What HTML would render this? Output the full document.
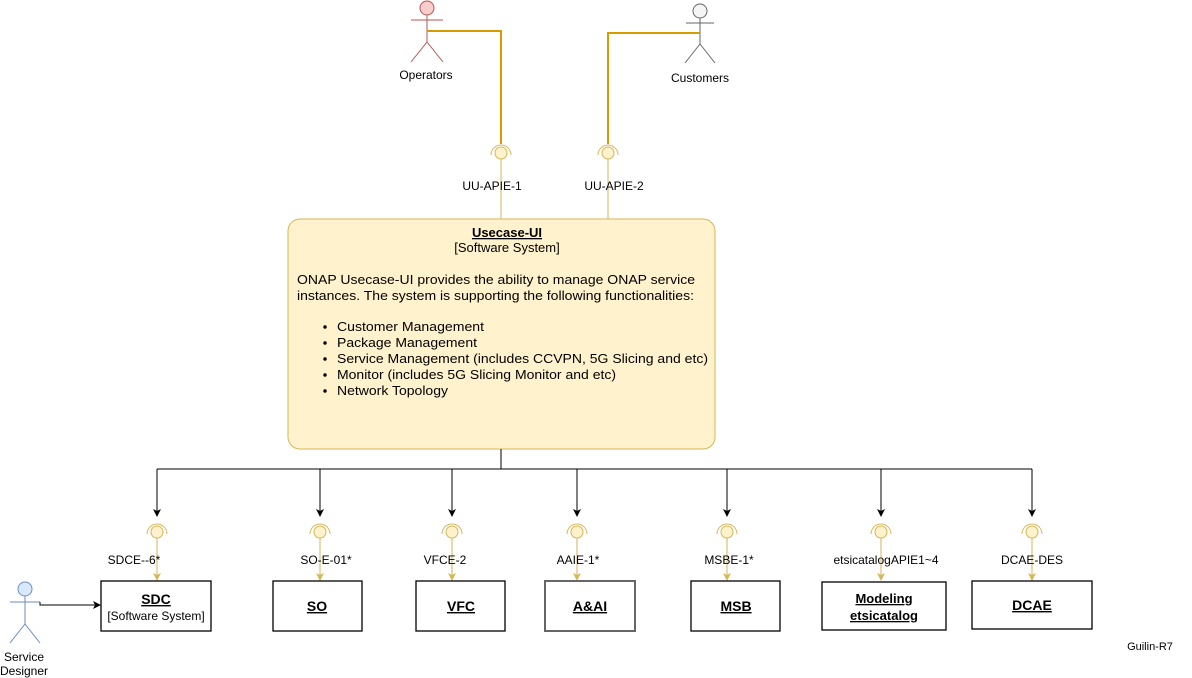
<!DOCTYPE html>
<html><head><meta charset="utf-8"><style>
html,body{margin:0;padding:0;background:#fff;}
svg{display:block;font-family:"Liberation Sans",Arial,sans-serif;}
</style></head><body>
<svg width="1192" height="678" viewBox="0 0 1192 678" xmlns="http://www.w3.org/2000/svg">
<defs>
<marker id="ab" markerWidth="8" markerHeight="8" refX="7" refY="4" orient="auto" markerUnits="userSpaceOnUse"><path d="M0,0 L8,4 L0,8 L2,4 z" fill="#000"/></marker>
<marker id="ag" markerWidth="8" markerHeight="8" refX="7" refY="4" orient="auto" markerUnits="userSpaceOnUse"><path d="M0,0 L8,4 L0,8 L2,4 z" fill="#d6b656"/></marker>
</defs>
<g fill="none" stroke="#b85450" stroke-width="1">
<circle cx="427" cy="8" r="7" fill="#f8cecc"/>
<line x1="427" y1="15" x2="427" y2="42"/><line x1="411" y1="20" x2="443" y2="20"/>
<line x1="427" y1="42" x2="411" y2="62"/><line x1="427" y1="42" x2="443" y2="62"/>
</g>
<text x="426" y="79" font-size="12" text-anchor="middle">Operators</text>
<g fill="none" stroke="#666" stroke-width="1">
<circle cx="700" cy="11" r="7" fill="#f5f5f5"/>
<line x1="700" y1="18" x2="700" y2="44"/><line x1="686" y1="23" x2="714" y2="23"/>
<line x1="700" y1="44" x2="685" y2="63"/><line x1="700" y1="44" x2="715" y2="63"/>
</g>
<text x="700" y="82" font-size="12" text-anchor="middle">Customers</text>
<g fill="none" stroke="#d79b00" stroke-width="2">
<polyline points="427,31 501,31 501,144"/>
<polyline points="700,33 608,33 608,144"/>
</g>
<g fill="none" stroke="#d6b656">
<line x1="501" y1="159" x2="501" y2="219"/><line x1="608" y1="159" x2="608" y2="219"/>
<circle cx="501" cy="153" r="6" fill="#fff2cc"/><path d="M491,155 A10,10 0 0 1 511,155"/>
<circle cx="608" cy="153" r="6" fill="#fff2cc"/><path d="M598,155 A10,10 0 0 1 618,155"/>
</g>
<text x="492" y="190" font-size="12" text-anchor="middle">UU-APIE-1</text>
<text x="614" y="190" font-size="12" text-anchor="middle">UU-APIE-2</text>
<rect x="288" y="219" width="427" height="230" rx="12" fill="#fff2cc" stroke="#d6b656"/>
<text x="507" y="237" font-size="13" font-weight="bold" text-anchor="middle" text-decoration="underline">Usecase-UI</text>
<text x="507" y="252" font-size="13" text-anchor="middle">[Software System]</text>
<g font-size="13">
<text x="297" y="284" textLength="398" lengthAdjust="spacingAndGlyphs">ONAP Usecase-UI provides the ability to manage ONAP service</text>
<text x="297" y="300" textLength="397" lengthAdjust="spacingAndGlyphs">instances. The system is supporting the following functionalities:</text>
<text x="337" y="331" textLength="147" lengthAdjust="spacingAndGlyphs">Customer Management</text>
<text x="337" y="347" textLength="140" lengthAdjust="spacingAndGlyphs">Package Management</text>
<text x="337" y="363" textLength="371" lengthAdjust="spacingAndGlyphs">Service Management (includes CCVPN, 5G Slicing and etc)</text>
<text x="337" y="379" textLength="279" lengthAdjust="spacingAndGlyphs">Monitor (includes 5G Slicing Monitor and etc)</text>
<text x="337" y="395" textLength="111" lengthAdjust="spacingAndGlyphs">Network Topology</text>
</g>
<g fill="#000"><circle cx="325" cy="327" r="1.7"/><circle cx="325" cy="343" r="1.7"/><circle cx="325" cy="359" r="1.7"/><circle cx="325" cy="375" r="1.7"/><circle cx="325" cy="391" r="1.7"/></g>
<g fill="none" stroke="#000" stroke-width="1">
<line x1="501" y1="449" x2="501" y2="469"/>
<line x1="157" y1="469" x2="1032" y2="469"/>
<line x1="157" y1="469" x2="157" y2="516" marker-end="url(#ab)"/>
<line x1="320" y1="469" x2="320" y2="516" marker-end="url(#ab)"/>
<line x1="452" y1="469" x2="452" y2="516" marker-end="url(#ab)"/>
<line x1="577" y1="469" x2="577" y2="516" marker-end="url(#ab)"/>
<line x1="727" y1="469" x2="727" y2="516" marker-end="url(#ab)"/>
<line x1="881" y1="469" x2="881" y2="516" marker-end="url(#ab)"/>
<line x1="1032" y1="469" x2="1032" y2="516" marker-end="url(#ab)"/>
</g>
<g fill="none" stroke="#d6b656">
<line x1="157" y1="538" x2="157" y2="580" marker-end="url(#ag)"/><circle cx="157" cy="532" r="6" fill="#fff2cc"/><path d="M147,534 A10,10 0 0 1 167,534"/>
<line x1="320" y1="538" x2="320" y2="580" marker-end="url(#ag)"/><circle cx="320" cy="532" r="6" fill="#fff2cc"/><path d="M310,534 A10,10 0 0 1 330,534"/>
<line x1="452" y1="538" x2="452" y2="580" marker-end="url(#ag)"/><circle cx="452" cy="532" r="6" fill="#fff2cc"/><path d="M442,534 A10,10 0 0 1 462,534"/>
<line x1="577" y1="538" x2="577" y2="580" marker-end="url(#ag)"/><circle cx="577" cy="532" r="6" fill="#fff2cc"/><path d="M567,534 A10,10 0 0 1 587,534"/>
<line x1="727" y1="538" x2="727" y2="580" marker-end="url(#ag)"/><circle cx="727" cy="532" r="6" fill="#fff2cc"/><path d="M717,534 A10,10 0 0 1 737,534"/>
<line x1="881" y1="538" x2="881" y2="580" marker-end="url(#ag)"/><circle cx="881" cy="532" r="6" fill="#fff2cc"/><path d="M871,534 A10,10 0 0 1 891,534"/>
<line x1="1032" y1="538" x2="1032" y2="580" marker-end="url(#ag)"/><circle cx="1032" cy="532" r="6" fill="#fff2cc"/><path d="M1022,534 A10,10 0 0 1 1042,534"/>
</g>
<g font-size="12" text-anchor="middle">
<text x="134" y="564">SDCE--6*</text>
<text x="326" y="564">SO-E-01*</text>
<text x="445" y="564">VFCE-2</text>
<text x="578" y="564">AAIE-1*</text>
<text x="729" y="564">MSBE-1*</text>
<text x="886" y="564">etsicatalogAPIE1~4</text>
<text x="1032" y="564">DCAE-DES</text>
</g>
<g fill="#fff" stroke="#000" stroke-width="1.3">
<rect x="101" y="581" width="110" height="50"/>
<rect x="273" y="581" width="89" height="50"/>
<rect x="416" y="581" width="89" height="50"/>
<rect x="545" y="581" width="90" height="50" stroke="#666" stroke-width="2"/>
<rect x="691" y="581" width="89" height="50"/>
<rect x="822" y="582" width="124" height="48"/>
<rect x="972" y="581" width="120" height="48"/>
</g>
<g font-size="14" font-weight="bold" text-anchor="middle" text-decoration="underline">
<text x="156" y="604">SDC</text>
<text x="317" y="611">SO</text>
<text x="461" y="611">VFC</text>
<text x="590" y="611">A&amp;AI</text>
<text x="736" y="611">MSB</text>
<text x="884" y="603" font-size="13">Modeling</text>
<text x="884" y="620" font-size="13">etsicatalog</text>
<text x="1032" y="610">DCAE</text>
</g>
<text x="156" y="620" font-size="12" text-anchor="middle">[Software System]</text>
<g fill="none" stroke="#6c8ebf" stroke-width="1">
<circle cx="25" cy="589" r="7" fill="#dae8fc"/>
<line x1="25" y1="596" x2="25" y2="624"/><line x1="10" y1="602" x2="40" y2="602"/>
<line x1="25" y1="624" x2="10" y2="643"/><line x1="25" y1="624" x2="40" y2="643"/>
</g>
<polyline points="40,602 40,605 100,605" fill="none" stroke="#000" marker-end="url(#ab)"/>
<text x="24" y="661" font-size="12" text-anchor="middle">Service</text>
<text x="24" y="675" font-size="12" text-anchor="middle">Designer</text>
<text x="1150" y="650" font-size="11" text-anchor="middle">Guilin-R7</text>
</svg>
</body></html>
